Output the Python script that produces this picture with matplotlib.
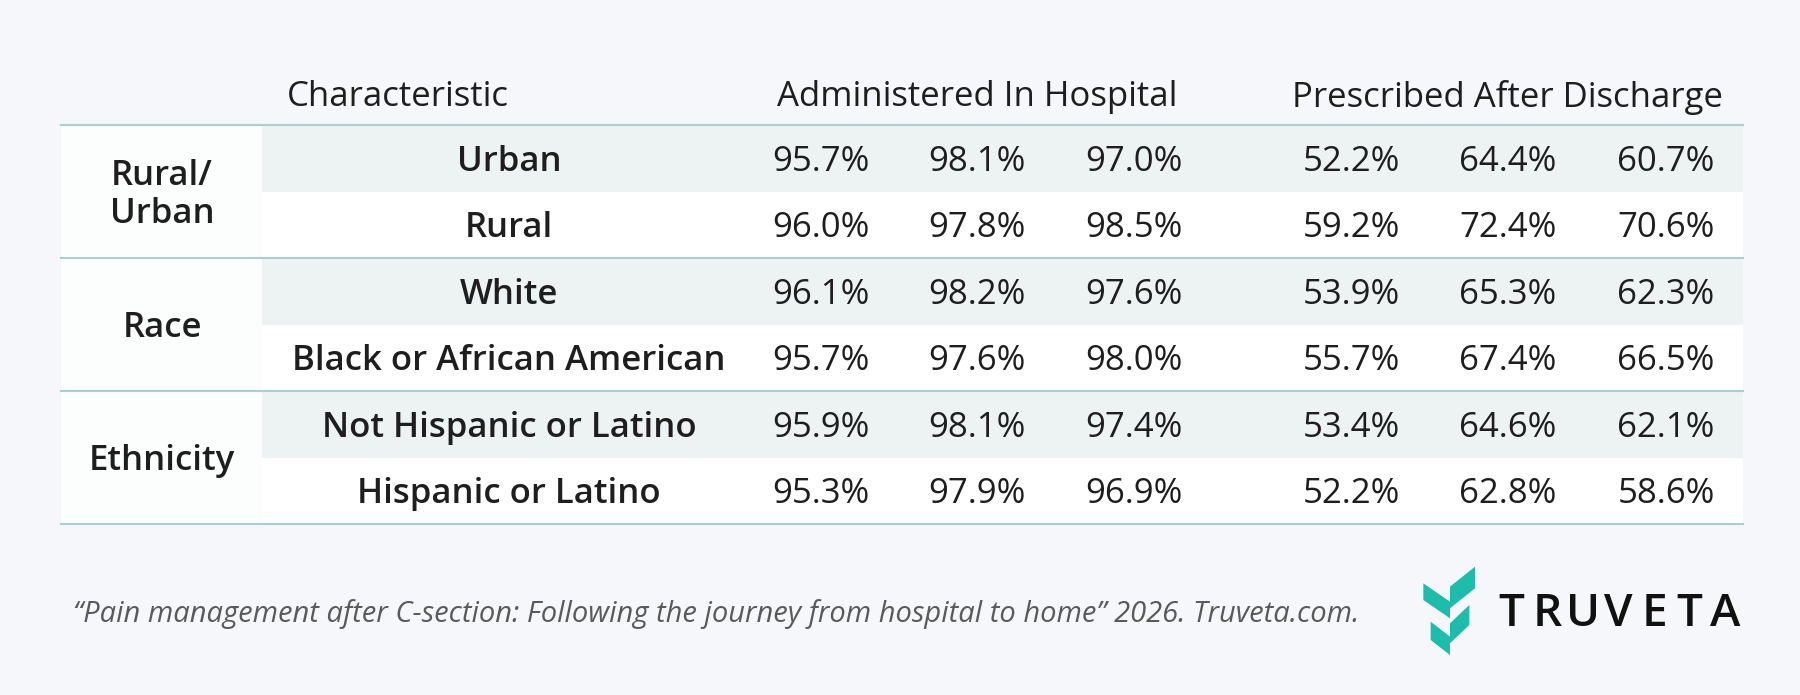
import matplotlib
matplotlib.use("Agg")
import matplotlib.pyplot as plt
from matplotlib.patches import Rectangle, Polygon

groups = ["Rural/\nUrban", "Race", "Ethnicity"]
characteristics = ["Urban", "Rural", "White", "Black or African American",
                   "Not Hispanic or Latino", "Hispanic or Latino"]
administered = [["95.7%", "98.1%", "97.0%"], ["96.0%", "97.8%", "98.5%"],
                ["96.1%", "98.2%", "97.6%"], ["95.7%", "97.6%", "98.0%"],
                ["95.9%", "98.1%", "97.4%"], ["95.3%", "97.9%", "96.9%"]]
prescribed = [["52.2%", "64.4%", "60.7%"], ["59.2%", "72.4%", "70.6%"],
              ["53.9%", "65.3%", "62.3%"], ["55.7%", "67.4%", "66.5%"],
              ["53.4%", "64.6%", "62.1%"], ["52.2%", "62.8%", "58.6%"]]
headers = ["Characteristic", "Administered In Hospital", "Prescribed After Discharge"]
footnote = "\u201cPain management after C-section: Following the journey from hospital to home\u201d 2026. Truveta.com."

W, H = 1800, 695
fig = plt.figure(figsize=(18, 6.95), dpi=100)
fig.patch.set_facecolor("#f6f7fa")
ax = fig.add_axes([0, 0, 1, 1])
ax.set_xlim(0, W); ax.set_ylim(H, 0); ax.axis("off")

FONT = "Open Sans"
TXT = "#1e1e1e"
LINE = "#a9d0cc"
BAND = "#edf3f3"
FS = 25
dy = 3.5

left, right = 61, 1743
top = 125
rh = 66.5
ax.add_patch(Rectangle((left, top), right - left, rh * 6, facecolor="#fcfdfd", edgecolor="none"))
ax.add_patch(Rectangle((262, top), right - 262, rh * 6, facecolor="white", edgecolor="none"))
for i in range(len(characteristics)):
    y0 = top + i * rh
    if i % 2 == 0:
        ax.add_patch(Rectangle((262, y0), right - 262, rh, facecolor=BAND, edgecolor="none"))
for k in range(4):
    y = top + k * 2 * rh
    ax.plot([left, right], [y, y], color=LINE, lw=1.5)

hy = 94 + dy
ax.text(287, hy, headers[0], ha="left", va="center", fontsize=FS, family=FONT, weight="medium", color=TXT)
ax.text(977, hy, headers[1], ha="center", va="center", fontsize=FS, family=FONT, weight="medium", color=TXT)
ax.text(1508, hy, headers[2], ha="center", va="center", fontsize=FS, family=FONT, weight="medium", color=TXT)

admx = [821, 977, 1134]
prex = [1351, 1508, 1666]
for i, ch in enumerate(characteristics):
    yc = top + (i + 0.5) * rh + dy
    ax.text(509, yc, ch, ha="center", va="center", fontsize=FS, family=FONT, weight="semibold", color=TXT)
    for x, v in zip(admx, administered[i]):
        ax.text(x, yc, v, ha="center", va="center", fontsize=FS, family=FONT, color=TXT)
    for x, v in zip(prex, prescribed[i]):
        ax.text(x, yc, v, ha="center", va="center", fontsize=FS, family=FONT, color=TXT)
for g, name in enumerate(groups):
    yc = top + (g * 2 + 1) * rh + dy
    ax.text(162, yc, name, ha="center", va="center", fontsize=FS, family=FONT,
            weight="semibold", color=TXT, linespacing=1.15)

ax.text(73, 614, footnote, ha="left", va="center", fontsize=21, family=FONT,
        style="italic", color="#5a5a5a")

teal = "#1dbcab"
def P(pts):
    return [(1410 + x / 3, 555 + y / 3) for x, y in pts]
for pts in [[(40, 85), (120, 140), (120, 190), (40, 135)],
            [(120, 95), (195, 35), (195, 100), (120, 160)],
            [(62, 200), (120, 245), (120, 300), (62, 255)],
            [(120, 205), (178, 150), (178, 210), (120, 265)]]:
    ax.add_patch(Polygon(P(pts), closed=True, facecolor=teal, edgecolor="none"))

logo = "TRUVETA"
lx0, lx1 = 1494, 1743
step = (lx1 - lx0) / len(logo)
for j, ch in enumerate(logo):
    ax.text(lx0 + (j + 0.5) * step, 614, ch, ha="center", va="center", fontsize=33,
            family=FONT, weight="semibold", color="#111111")
fig.savefig("out.png", dpi=100, facecolor=fig.get_facecolor())
